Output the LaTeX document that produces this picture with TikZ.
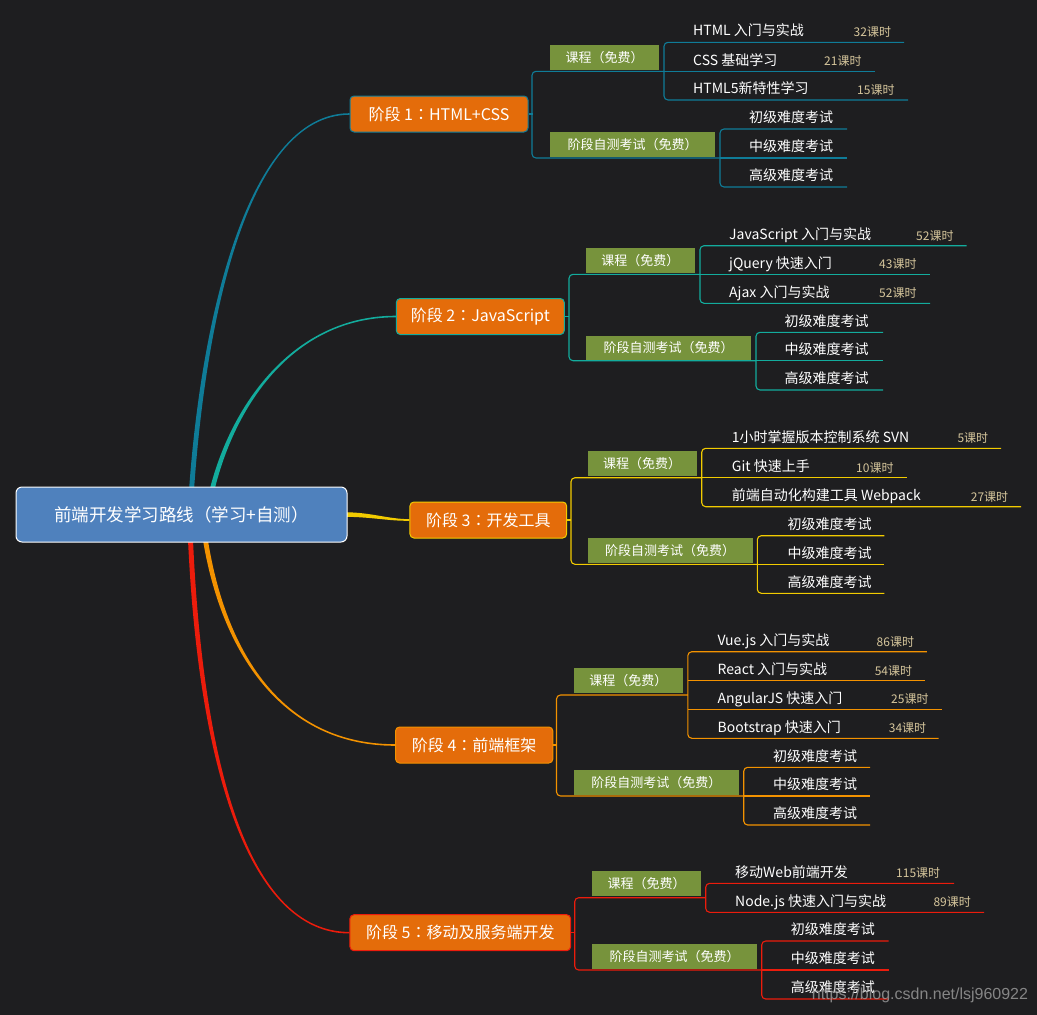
\documentclass[tikz,border=0pt]{standalone}
\usepackage{fontspec}
\setmainfont{Noto Sans CJK SC}
\newfontfamily\tcfont{Noto Sans CJK TC}
\newfontfamily\wmfont{Liberation Sans}
\newcommand{\tcc}{{\tcfont ：}}
\usetikzlibrary{calc}
\pgfdeclarelayer{back}
\pgfdeclarelayer{curves}
\pgfsetlayers{back,curves,main}

\definecolor{bgcol}{HTML}{1E1E20}
\definecolor{rootcol}{HTML}{4F81BD}
\definecolor{stagecol}{HTML}{E46C0A}
\definecolor{catcol}{HTML}{77933C}
\definecolor{hourcol}{HTML}{D6C69C}
\definecolor{bone}{HTML}{0F7C98}
\definecolor{btwo}{HTML}{13AC9D}
\definecolor{bthree}{HTML}{F2CB00}
\definecolor{bfour}{HTML}{F39200}
\definecolor{bfive}{HTML}{EC1C0C}

\begin{document}
\begin{tikzpicture}[x=1pt, y=-1pt,
  root/.style={rectangle, rounded corners=6pt, fill=rootcol, draw=white, line width=1pt, text=white,
    minimum width=331pt, minimum height=55pt, font=\fontsize{17.5}{21}\selectfont},
  stage/.style={rectangle, rounded corners=4pt, fill=stagecol, line width=1pt, text=white,
    minimum height=36pt, inner xsep=4pt, font=\fontsize{16}{19}\selectfont},
  cat/.style={rectangle, fill=catcol, text=white, minimum height=24.5pt, inner sep=0pt,
    font=\fontsize{13}{15}\selectfont},
  leaf/.style={anchor=base west, inner sep=0pt, text=white, font=\fontsize{14}{16}\selectfont},
  hrs/.style={anchor=base west, inner sep=0pt, text=hourcol, font=\fontsize{12}{14}\selectfont},
  link/.style={line width=1.1pt, rounded corners=4pt}]

\begin{pgfonlayer}{back}
  \fill[bgcol] (0,0) rectangle (1037,1015);
\end{pgfonlayer}
\useasboundingbox (0,0) rectangle (1037,1015);

%%% root %%%
\node[root] (root) at (181.5,514.5) {前端开发学习路线（学习+自测）};

%%% stage 1 %%%
\node[stage, draw=bone, minimum width=178pt] (s1) at (439,114) {阶段 1\tcc HTML+CSS};
\node[cat, minimum width=109pt] (s1c) at (604.5,57.5) {课程（免费）};
\node[cat, minimum width=165pt] (s1t) at (632.5,144.5) {阶段自测考试（免费）};
%%
\node[leaf] (s1c1) at (693,35.7) {HTML 入门与实战};
\node[leaf] (s1c2) at (693,65) {CSS 基础学习};
\node[leaf] (s1c3) at (693,93.7) {HTML5新特性学习};
\node[hrs] (s1h1) at (853.5,36.6) {32课时};
\node[hrs] (s1h2) at (824,65.9) {21课时};
\node[hrs] (s1h3) at (857,94.6) {15课时};
%%
\node[leaf] (s1t1) at (749,122.7) {初级难度考试};
\node[leaf] (s1t2) at (749,151.7) {中级难度考试};
\node[leaf] (s1t3) at (749,180.7) {高级难度考试};
%%
\draw[bone, link] (s1.east) -- ++(4,0);
\draw[bone, link] (664,71.3) -| (532,158) -- (720,158);
\draw[bone, link] (904,42.3) -| (664,100) -- (908,100);
\draw[bone, link] (664,71.3) -- (875,71.3);
\draw[bone, link] (847,129) -| (720,187) -- (847,187);
\draw[bone, link] (720,158) -- (847,158);

%%% stage 2 %%%
\node[stage, draw=btwo, minimum width=168pt] (s2) at (480.3,316.5) {阶段 2\tcc JavaScript};
\node[cat, minimum width=108.6pt] (s2c) at (640.3,260.4) {课程（免费）};
\node[cat, minimum width=165pt] (s2t) at (668.5,348) {阶段自测考试（免费）};
%%
\node[leaf] (s2c1) at (729,239.4) {JavaScript 入门与实战};
\node[leaf] (s2c2) at (729,268) {jQuery 快速入门};
\node[leaf] (s2c3) at (729,297) {Ajax 入门与实战};
\node[hrs] (s2h1) at (916,240.3) {52课时};
\node[hrs] (s2h2) at (879,268.9) {43课时};
\node[hrs] (s2h3) at (879,297.9) {52课时};
%%
\node[leaf] (s2t1) at (784.5,326) {初级难度考试};
\node[leaf] (s2t2) at (784.5,354.4) {中级难度考试};
\node[leaf] (s2t3) at (784.5,383.7) {高级难度考试};
%%
\draw[btwo, link] (s2.east) -- ++(4.5,0);
\draw[btwo, link] (700,274.3) -| (569,360.7) -- (756,360.7);
\draw[btwo, link] (966.7,245.7) -| (700,303.3) -- (930,303.3);
\draw[btwo, link] (700,274.3) -- (930,274.3);
\draw[btwo, link] (883,332.3) -| (756,390) -- (883,390);
\draw[btwo, link] (756,360.7) -- (883,360.7);

%%% stage 3 %%%
\node[stage, draw=bthree, minimum width=156.7pt] (s3) at (488.3,520) {阶段 3\tcc 开发工具};
\node[cat, minimum width=109pt] (s3c) at (642.2,463.4) {课程（免费）};
\node[cat, minimum width=165pt] (s3t) at (670.2,550.4) {阶段自测考试（免费）};
%%
\node[leaf] (s3c1) at (731.7,442) {1小时掌握版本控制系统 SVN};
\node[leaf] (s3c2) at (731.7,471.4) {Git 快速上手};
\node[leaf] (s3c3) at (731.7,500.4) {前端自动化构建工具 Webpack};
\node[hrs] (s3h1) at (957.3,442.9) {5课时};
\node[hrs] (s3h2) at (856,472.3) {10课时};
\node[hrs] (s3h3) at (970.7,501.3) {27课时};
%%
\node[leaf] (s3t1) at (787.3,529.4) {初级难度考试};
\node[leaf] (s3t2) at (787.3,558) {中级难度考试};
\node[leaf] (s3t3) at (787.3,587) {高级难度考试};
%%
\draw[bthree, link] (s3.east) -- ++(4.3,0);
\draw[bthree, link] (701.7,477.7) -| (571,564.3) -- (757.3,564.3);
\draw[bthree, link] (1001,448.3) -| (701.7,506.7) -- (1021,506.7);
\draw[bthree, link] (701.7,477.7) -- (906.7,477.7);
\draw[bthree, link] (884.3,535.7) -| (757.3,593.3) -- (884.3,593.3);
\draw[bthree, link] (757.3,564.3) -- (884.3,564.3);

%%% stage 4 %%%
\node[stage, draw=bfour, minimum width=157.3pt] (s4) at (474.2,745) {阶段 4\tcc 前端框架};
\node[cat, minimum width=108.7pt] (s4c) at (628.3,680.5) {课程（免费）};
\node[cat, minimum width=165pt] (s4t) at (656.4,782.4) {阶段自测考试（免费）};
%%
\node[leaf] (s4c1) at (717.4,645.4) {Vue.js 入门与实战};
\node[leaf] (s4c2) at (717.4,674.4) {React 入门与实战};
\node[leaf] (s4c3) at (717.4,703) {AngularJS 快速入门};
\node[leaf] (s4c4) at (717.4,732) {Bootstrap 快速入门};
\node[hrs] (s4h1) at (876.5,646.3) {86课时};
\node[hrs] (s4h2) at (874.6,675.3) {54课时};
\node[hrs] (s4h3) at (891,703.9) {25课时};
\node[hrs] (s4h4) at (888.7,732.9) {34课时};
%%
\node[leaf] (s4t1) at (772.9,761) {初级难度考试};
\node[leaf] (s4t2) at (772.9,789.7) {中级难度考试};
\node[leaf] (s4t3) at (772.9,818.7) {高级难度考试};
%%
\draw[bfour, link] (s4.east) -- ++(3.7,0);
\draw[bfour, link] (687.8,695) -| (556.5,796) -- (743.7,796);
\draw[bfour, link] (926.8,651.7) -| (687.8,738.3) -- (938.6,738.3);
\draw[bfour, link] (687.8,680.7) -- (925,680.7);
\draw[bfour, link] (687.8,709.3) -- (941.6,709.3);
\draw[bfour, link] (870.2,767.3) -| (743.7,825) -- (870.2,825);
\draw[bfour, link] (743.7,796) -- (870.2,796);

%%% stage 5 %%%
\node[stage, draw=bfive, minimum width=220.7pt] (s5) at (460.3,932.7) {阶段 5\tcc 移动及服务端开发};
\node[cat, minimum width=108.7pt] (s5c) at (646.7,883.4) {课程（免费）};
\node[cat, minimum width=164.4pt] (s5t) at (674.5,956.7) {阶段自测考试（免费）};
%%
\node[leaf] (s5c1) at (735,877) {移动Web前端开发};
\node[leaf] (s5c2) at (735,906) {Node.js 快速入门与实战};
\node[hrs] (s5h1) at (896,877.9) {115课时};
\node[hrs] (s5h2) at (933.3,906.9) {89课时};
%%
\node[leaf] (s5t1) at (790.7,934.7) {初级难度考试};
\node[leaf] (s5t2) at (790.7,963.7) {中级难度考试};
\node[leaf] (s5t3) at (790.7,992.7) {高级难度考试};
%%
\draw[bfive, link] (s5.east) -- ++(4,0);
\draw[bfive, link] (705.7,897.7) -| (574.7,970) -- (761.7,970);
\draw[bfive, link] (954,883.3) -| (705.7,912.3) -- (984,912.3);
\draw[bfive, link] (888.7,941) -| (761.7,999) -- (888.7,999);
\draw[bfive, link] (761.7,970) -- (888.7,970);

%%% tapered branches from the root %%%
\begin{pgfonlayer}{curves}
  \fill[bone] ($(root.center)+(6,0)$) .. controls (197.5,330) and (245,113.2) .. ($(s1.west)+(0,-0.8)$)
    -- ($(s1.west)+(0,0.8)$) .. controls (245,114.8) and (202.5,330) .. ($(root.center)+(11,0)$) -- cycle;
  \fill[btwo] ($(root.center)+(23,0)$) .. controls (220,420) and (285,315.7) .. ($(s2.west)+(0,-0.8)$)
    -- ($(s2.west)+(0,0.8)$) .. controls (285,317.3) and (225,420) .. ($(root.center)+(28,0)$) -- cycle;
  \fill[bthree] ($(root.east)+(-2,-2.3)$) .. controls (372,512.6) and (388,519) .. ($(s3.west)+(0,-0.8)$)
    -- ($(s3.west)+(0,0.8)$) .. controls (388,521) and (372,517) .. ($(root.east)+(-2,2.3)$) -- cycle;
  \fill[bfour] ($(root.center)+(18,0)$) .. controls (213,640) and (275,745.8) .. ($(s4.west)+(0,0.8)$)
    -- ($(s4.west)+(0,-0.8)$) .. controls (275,744.2) and (218,640) .. ($(root.center)+(23,0)$) -- cycle;
  \fill[bfive] ($(root.center)+(5.5,0)$) .. controls (195.5,770) and (250,933.5) .. ($(s5.west)+(0,0.8)$)
    -- ($(s5.west)+(0,-0.8)$) .. controls (250,931.9) and (200.5,770) .. ($(root.center)+(10.5,0)$) -- cycle;
\end{pgfonlayer}

%% watermark
\node[anchor=west, inner sep=0pt, text=gray!75!white, opacity=0.8, font=\wmfont\fontsize{16}{18}\selectfont]
  (wm) at (811.7,995.7) {https://blog.csdn.net/lsj960922};

\end{tikzpicture}
\end{document}
